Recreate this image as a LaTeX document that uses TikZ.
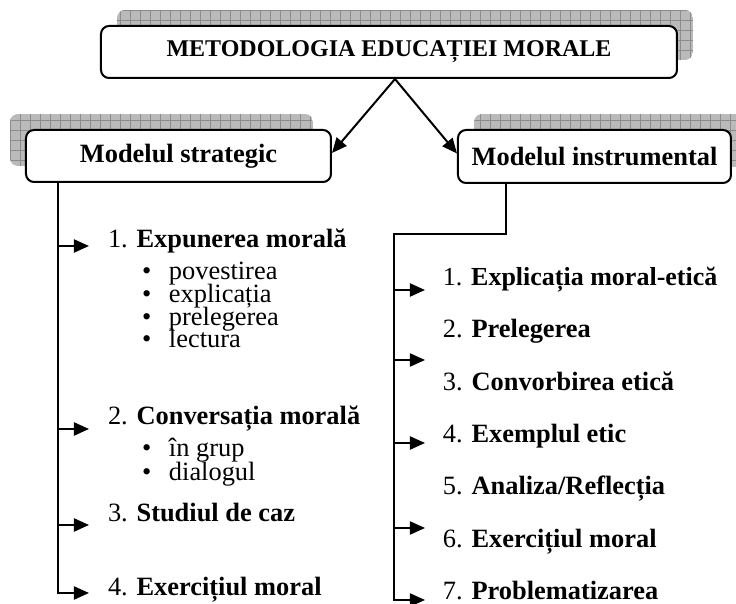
\documentclass[tikz,border=0pt]{standalone}
\usepackage{fontspec}
\setmainfont{Liberation Serif}
\usetikzlibrary{arrows.meta,positioning}
\newcommand{\gridshadow}[2]{%
  \begin{scope}
    \clip[rounded corners=4pt] #1 rectangle #2;
    \fill[black!27] #1 rectangle #2;
    \draw[black!45, line width=0.4pt, step=5pt] #1 grid #2;
  \end{scope}}
\newcommand{\bul}{\makebox[13.5pt][l]{\textbullet}}

\begin{document}
\begin{tikzpicture}[x=0.5pt, y=-0.5pt, line width=1pt,
    box/.style={draw, fill=white, rounded corners=4pt, inner sep=0pt,
      font=\fontsize{13.2}{16}\selectfont\bfseries},
    entry/.style={anchor=base west, inner sep=0pt, font=\fontsize{13.2}{16}\selectfont},
    arr/.style={-{Triangle[length=7.5pt,width=6.5pt]}}]
  \useasboundingbox (0,0) rectangle (736,604);
  \gridshadow{(117,10)}{(693,60)}
  \gridshadow{(10,114)}{(313,166)}
  \gridshadow{(474,114)}{(747,167)}

  \node[box, minimum width=288pt, minimum height=26pt,
        font=\fontsize{12}{14}\selectfont\bfseries] (title) at (389,52) {METODOLOGIA EDUCAȚIEI MORALE};
  \node[box, minimum width=152.5pt, minimum height=26pt] (strat) at (178.5,156) {Modelul strategic};
  \node[box, minimum width=136.5pt, minimum height=26.5pt] (instr) at (594.5,156.5) {Modelul instrumental};

  \node[entry] (s1)  at (107,248) {1. \textbf{Expunerea morală}};
  \node[entry] (s1a) at (141,280) {\bul povestirea};
  \node[entry] (s1b) at (141,303) {\bul explicația};
  \node[entry] (s1c) at (141,326) {\bul prelegerea};
  \node[entry] (s1d) at (141,348) {\bul lectura};
  \node[entry] (s2)  at (107,425) {2. \textbf{Conversația morală}};
  \node[entry] (s2a) at (141,457) {\bul în grup};
  \node[entry] (s2b) at (141,481) {\bul dialogul};
  \node[entry] (s3)  at (107,522) {3. \textbf{Studiul de caz}};
  \node[entry] (s4)  at (107,596) {4. \textbf{Exercițiul moral}};

  \node[entry, font=\fontsize{13}{16}\selectfont] (i1) at (442,286) {1. \textbf{Explicația moral-etică}};
  \node[entry] (i2) at (442,338) {2. \textbf{Prelegerea}};
  \node[entry] (i3) at (442,391) {3. \textbf{Convorbirea etică}};
  \node[entry] (i4) at (442,443) {4. \textbf{Exemplul etic}};
  \node[entry] (i5) at (442,495) {5. \textbf{Analiza/Reflecția}};
  \node[entry] (i6) at (442,548) {6. \textbf{Exercițiul moral}};
  \node[entry] (i7) at (442,600) {7. \textbf{Problematizarea}};

  \coordinate (l1) at (58,246);
  \coordinate (l2) at (58,429);
  \coordinate (l3) at (58,525);
  \coordinate (l4) at (58,593);
  \coordinate (rb) at (506,234);
  \coordinate (rc) at (394,234);
  \coordinate (r1) at (394,290);
  \coordinate (r2) at (394,360);
  \coordinate (r3) at (394,443);
  \coordinate (r4) at (394,528);
  \coordinate (r5) at (394,600);

  \draw[arr] ([xshift=3pt]title.south) -- ([yshift=1.5pt]strat.east);
  \draw[arr] ([xshift=3pt]title.south) -- ([yshift=1.5pt]instr.west);

  \draw[arr, shorten >=9pt] (strat.south -| l4) -- (l4) -- (l4 -| s4.west);
  \draw[arr, shorten >=9pt] (l1) -- (l1 -| s1.west);
  \draw[arr, shorten >=9pt] (l2) -- (l2 -| s2.west);
  \draw[arr, shorten >=9pt] (l3) -- (l3 -| s3.west);

  \draw[arr, shorten >=8.5pt] (instr.south -| rb) -- (rb) -- (rc) -- (r5) -- (r5 -| i7.west);
  \draw[arr, shorten >=8.5pt] (r1) -- (r1 -| i1.west);
  \draw[arr, shorten >=8.5pt] (r2) -- (r2 -| i1.west);
  \draw[arr, shorten >=8.5pt] (r3) -- (r3 -| i1.west);
  \draw[arr, shorten >=8.5pt] (r4) -- (r4 -| i1.west);
\end{tikzpicture}
\end{document}
